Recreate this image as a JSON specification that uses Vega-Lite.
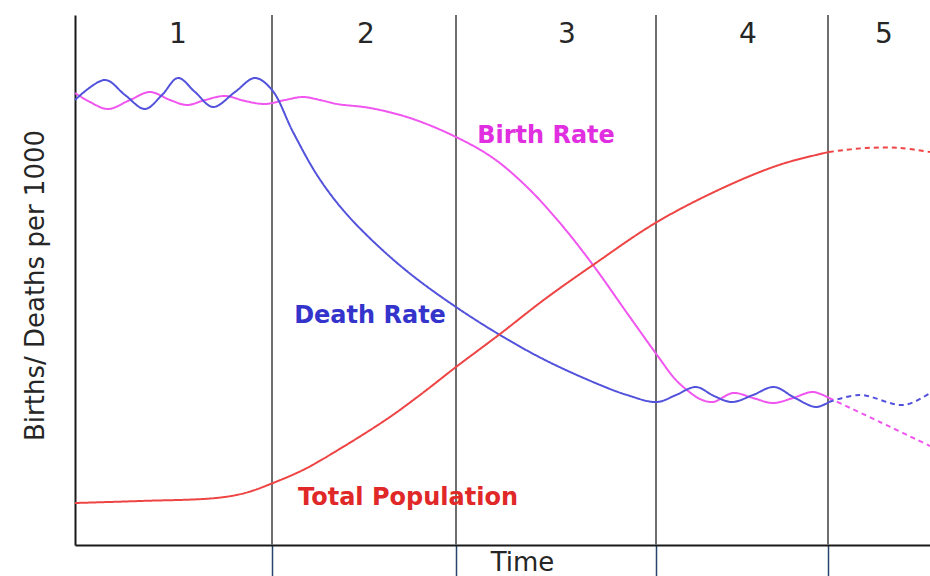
{
  "$schema": "https://vega.github.io/schema/vega-lite/v6.json",
  "width": 855,
  "height": 530,
  "autosize": "none",
  "padding": {"left": 75, "top": 15, "right": 0, "bottom": 31},
  "background": "white",
  "config": {"view": {"stroke": null}},
  "datasets": {
    "curves": [
      {"series": "Birth Rate", "style": "solid", "t": 0, "v": 45.2},
      {"series": "Birth Rate", "style": "solid", "t": 15, "v": 44.3},
      {"series": "Birth Rate", "style": "solid", "t": 33, "v": 43.6},
      {"series": "Birth Rate", "style": "solid", "t": 55, "v": 44.5},
      {"series": "Birth Rate", "style": "solid", "t": 75, "v": 45.3},
      {"series": "Birth Rate", "style": "solid", "t": 95, "v": 44.5},
      {"series": "Birth Rate", "style": "solid", "t": 112, "v": 44.0},
      {"series": "Birth Rate", "style": "solid", "t": 130, "v": 44.5},
      {"series": "Birth Rate", "style": "solid", "t": 150, "v": 44.9},
      {"series": "Birth Rate", "style": "solid", "t": 170, "v": 44.4},
      {"series": "Birth Rate", "style": "solid", "t": 190, "v": 44.1},
      {"series": "Birth Rate", "style": "solid", "t": 210, "v": 44.5},
      {"series": "Birth Rate", "style": "solid", "t": 228, "v": 44.8},
      {"series": "Birth Rate", "style": "solid", "t": 245, "v": 44.5},
      {"series": "Birth Rate", "style": "solid", "t": 262, "v": 44.1},
      {"series": "Birth Rate", "style": "solid", "t": 295, "v": 43.7},
      {"series": "Birth Rate", "style": "solid", "t": 335, "v": 42.7},
      {"series": "Birth Rate", "style": "solid", "t": 381, "v": 40.8},
      {"series": "Birth Rate", "style": "solid", "t": 418, "v": 38.7},
      {"series": "Birth Rate", "style": "solid", "t": 452, "v": 35.8},
      {"series": "Birth Rate", "style": "solid", "t": 485, "v": 32.2},
      {"series": "Birth Rate", "style": "solid", "t": 518, "v": 28.0},
      {"series": "Birth Rate", "style": "solid", "t": 552, "v": 23.2},
      {"series": "Birth Rate", "style": "solid", "t": 582, "v": 19.0},
      {"series": "Birth Rate", "style": "solid", "t": 600, "v": 16.6},
      {"series": "Birth Rate", "style": "solid", "t": 612, "v": 15.5},
      {"series": "Birth Rate", "style": "solid", "t": 625, "v": 14.6},
      {"series": "Birth Rate", "style": "solid", "t": 638, "v": 14.3},
      {"series": "Birth Rate", "style": "solid", "t": 658, "v": 15.2},
      {"series": "Birth Rate", "style": "solid", "t": 678, "v": 14.7},
      {"series": "Birth Rate", "style": "solid", "t": 698, "v": 14.2},
      {"series": "Birth Rate", "style": "solid", "t": 718, "v": 14.7},
      {"series": "Birth Rate", "style": "solid", "t": 738, "v": 15.3},
      {"series": "Birth Rate", "style": "solid", "t": 754, "v": 14.7},
      {"series": "Birth Rate", "style": "dashed", "t": 754, "v": 14.7},
      {"series": "Birth Rate", "style": "dashed", "t": 805, "v": 12.3},
      {"series": "Birth Rate", "style": "dashed", "t": 855, "v": 9.9},
      {"series": "Death Rate", "style": "solid", "t": 0, "v": 44.5},
      {"series": "Death Rate", "style": "solid", "t": 30, "v": 46.5},
      {"series": "Death Rate", "style": "solid", "t": 50, "v": 45.0},
      {"series": "Death Rate", "style": "solid", "t": 70, "v": 43.6},
      {"series": "Death Rate", "style": "solid", "t": 87, "v": 45.0},
      {"series": "Death Rate", "style": "solid", "t": 103, "v": 46.7},
      {"series": "Death Rate", "style": "solid", "t": 120, "v": 45.3},
      {"series": "Death Rate", "style": "solid", "t": 138, "v": 43.8},
      {"series": "Death Rate", "style": "solid", "t": 160, "v": 45.3},
      {"series": "Death Rate", "style": "solid", "t": 180, "v": 46.7},
      {"series": "Death Rate", "style": "solid", "t": 197, "v": 45.5},
      {"series": "Death Rate", "style": "solid", "t": 218, "v": 41.3},
      {"series": "Death Rate", "style": "solid", "t": 242, "v": 37.0},
      {"series": "Death Rate", "style": "solid", "t": 268, "v": 33.5},
      {"series": "Death Rate", "style": "solid", "t": 302, "v": 30.0},
      {"series": "Death Rate", "style": "solid", "t": 338, "v": 26.9},
      {"series": "Death Rate", "style": "solid", "t": 381, "v": 23.8},
      {"series": "Death Rate", "style": "solid", "t": 425, "v": 21.0},
      {"series": "Death Rate", "style": "solid", "t": 468, "v": 18.6},
      {"series": "Death Rate", "style": "solid", "t": 518, "v": 16.3},
      {"series": "Death Rate", "style": "solid", "t": 552, "v": 15.0},
      {"series": "Death Rate", "style": "solid", "t": 582, "v": 14.3},
      {"series": "Death Rate", "style": "solid", "t": 601, "v": 15.0},
      {"series": "Death Rate", "style": "solid", "t": 621, "v": 15.8},
      {"series": "Death Rate", "style": "solid", "t": 639, "v": 14.9},
      {"series": "Death Rate", "style": "solid", "t": 657, "v": 14.3},
      {"series": "Death Rate", "style": "solid", "t": 678, "v": 15.0},
      {"series": "Death Rate", "style": "solid", "t": 699, "v": 15.8},
      {"series": "Death Rate", "style": "solid", "t": 720, "v": 14.7},
      {"series": "Death Rate", "style": "solid", "t": 741, "v": 13.8},
      {"series": "Death Rate", "style": "solid", "t": 754, "v": 14.3},
      {"series": "Death Rate", "style": "dashed", "t": 754, "v": 14.3},
      {"series": "Death Rate", "style": "dashed", "t": 785, "v": 15.0},
      {"series": "Death Rate", "style": "dashed", "t": 829, "v": 14.0},
      {"series": "Death Rate", "style": "dashed", "t": 855, "v": 15.2},
      {"series": "Total Population", "style": "solid", "t": 0, "v": 4.2},
      {"series": "Total Population", "style": "solid", "t": 65, "v": 4.4},
      {"series": "Total Population", "style": "solid", "t": 141, "v": 4.7},
      {"series": "Total Population", "style": "solid", "t": 170, "v": 5.2},
      {"series": "Total Population", "style": "solid", "t": 198, "v": 6.2},
      {"series": "Total Population", "style": "solid", "t": 230, "v": 7.6},
      {"series": "Total Population", "style": "solid", "t": 263, "v": 9.5},
      {"series": "Total Population", "style": "solid", "t": 312, "v": 12.6},
      {"series": "Total Population", "style": "solid", "t": 345, "v": 15.0},
      {"series": "Total Population", "style": "solid", "t": 381, "v": 17.8},
      {"series": "Total Population", "style": "solid", "t": 425, "v": 21.1},
      {"series": "Total Population", "style": "solid", "t": 470, "v": 24.6},
      {"series": "Total Population", "style": "solid", "t": 518, "v": 28.0},
      {"series": "Total Population", "style": "solid", "t": 582, "v": 32.3},
      {"series": "Total Population", "style": "solid", "t": 652, "v": 35.9},
      {"series": "Total Population", "style": "solid", "t": 707, "v": 38.1},
      {"series": "Total Population", "style": "solid", "t": 754, "v": 39.3},
      {"series": "Total Population", "style": "dashed", "t": 754, "v": 39.3},
      {"series": "Total Population", "style": "dashed", "t": 791, "v": 39.7},
      {"series": "Total Population", "style": "dashed", "t": 825, "v": 39.7},
      {"series": "Total Population", "style": "dashed", "t": 855, "v": 39.3}
    ],
    "stages": [
      {"stage": "1", "start": 0, "mid": 103},
      {"stage": "2", "start": 197, "mid": 291},
      {"stage": "3", "start": 381, "mid": 492},
      {"stage": "4", "start": 581, "mid": 673},
      {"stage": "5", "start": 753, "mid": 809}
    ],
    "labels": [
      {"series": "Birth Rate", "t": 471, "v": 40.2},
      {"series": "Death Rate", "t": 295, "v": 22.2},
      {"series": "Total Population", "t": 333, "v": 4.0}
    ]
  },
  "layer": [
    {
      "data": {"name": "stages"},
      "transform": [{"filter": "datum.start > 0"}],
      "mark": {"type": "rule", "color": "#6e6e6e", "strokeWidth": 2},
      "encoding": {
        "x": {
          "field": "start", "type": "quantitative",
          "scale": {"domain": [0, 855], "nice": false, "zero": false},
          "axis": {
            "values": [197, 381, 581, 753],
            "labels": false, "grid": false,
            "domainColor": "#1a1a1a", "domainWidth": 2,
            "ticks": true, "tickSize": 31, "tickColor": "#27446e", "tickWidth": 1.5,
            "title": "Time", "titleFont": "DejaVu Sans", "titleFontSize": 26,
            "titleFontWeight": "normal", "titleColor": "#262626",
            "titleX": 447, "titleY": 25, "titleAlign": "center", "titleBaseline": "alphabetic"
          }
        }
      }
    },
    {
      "data": {"name": "curves"},
      "mark": {"type": "line", "interpolate": "catmull-rom", "strokeWidth": 2},
      "encoding": {
        "x": {"field": "t", "type": "quantitative"},
        "y": {
          "field": "v", "type": "quantitative",
          "scale": {"domain": [0, 53], "nice": false, "zero": false},
          "axis": {
            "labels": false, "ticks": false, "grid": false,
            "domainColor": "#1a1a1a", "domainWidth": 2,
            "title": "Births/ Deaths per 1000", "titleFont": "DejaVu Sans", "titleFontSize": 26,
            "titleFontWeight": "normal", "titleColor": "#262626",
            "titleAngle": -90, "titleX": -40, "titleY": 270,
            "titleAlign": "center", "titleBaseline": "middle"
          }
        },
        "color": {
          "field": "series", "type": "nominal",
          "scale": {"domain": ["Birth Rate", "Death Rate", "Total Population"], "range": ["#f055f0", "#5252dc", "#ee4444"]},
          "legend": null
        },
        "strokeDash": {
          "field": "style", "type": "nominal",
          "scale": {"domain": ["solid", "dashed"], "range": [[1, 0], [5, 4]]},
          "legend": null
        }
      }
    },
    {
      "data": {"name": "stages"},
      "mark": {"type": "text", "font": "DejaVu Sans", "fontSize": 28, "color": "#262626", "baseline": "alphabetic", "align": "center"},
      "encoding": {
        "x": {"field": "mid", "type": "quantitative"},
        "y": {"datum": 50.2, "type": "quantitative"},
        "text": {"field": "stage"}
      }
    },
    {
      "data": {"name": "labels"},
      "mark": {"type": "text", "font": "DejaVu Sans", "fontSize": 24, "fontWeight": "bold", "baseline": "alphabetic", "align": "center"},
      "encoding": {
        "x": {"field": "t", "type": "quantitative"},
        "y": {"field": "v", "type": "quantitative"},
        "text": {"field": "series"},
        "color": {
          "field": "series", "type": "nominal",
          "scale": {"domain": ["Birth Rate", "Death Rate", "Total Population"], "range": ["#e02ee0", "#3434cc", "#e02828"]},
          "legend": null
        }
      }
    }
  ],
  "resolve": {"scale": {"color": "independent"}}
}
